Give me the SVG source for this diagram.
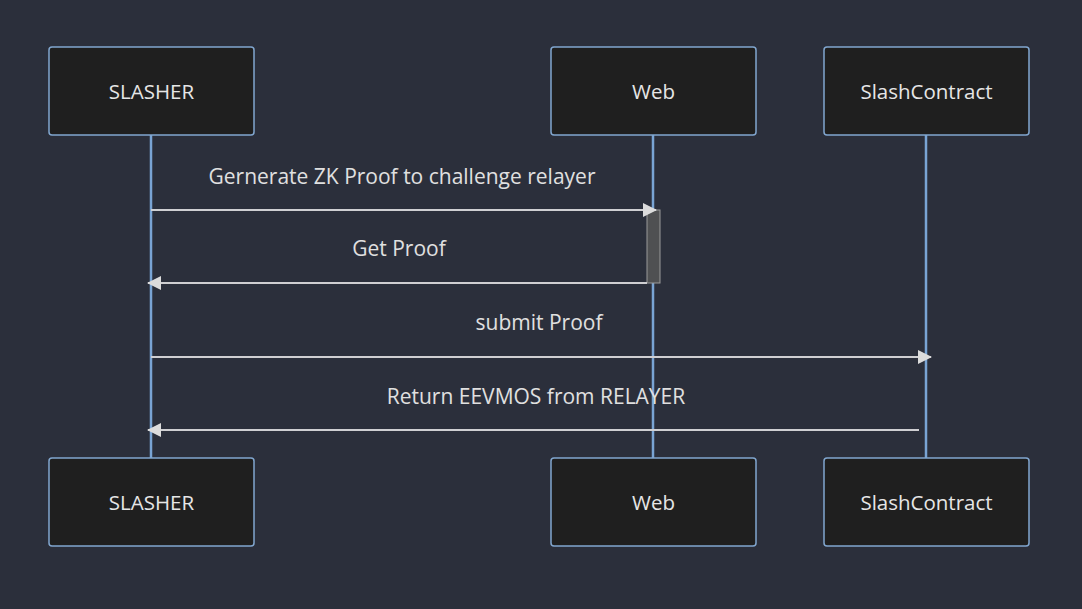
<svg xmlns="http://www.w3.org/2000/svg" width="1082" height="609" viewBox="0 0 1082 609">
<defs>
<style>
.actor{fill:#1f1f1f;stroke:#81a6cf;stroke-width:1.5}
.atext{fill:#e6e6e6;font-family:"Open Sans","DejaVu Sans",sans-serif;font-size:20.5px;text-anchor:middle;dominant-baseline:central}
.life{stroke:#79a4d4;stroke-width:2.5}
.msg{stroke:#cfcfd2;stroke-width:2;fill:none}
.mtext{fill:#e0e0e0;font-family:"Open Sans","DejaVu Sans",sans-serif;font-size:21px;text-anchor:middle}
.act{fill:#4f5052;stroke:#9a9a9a;stroke-width:1}
</style>
<marker id="arrow" viewBox="0 0 14 14" refX="13" refY="7" markerWidth="14" markerHeight="14" markerUnits="userSpaceOnUse" orient="auto">
<path d="M0,0 L14,7 L0,14 Z" fill="#dcdcdc"/>
</marker>
</defs>
<rect width="1082" height="609" fill="#2b2f3b"/>
<g id="lifelines">
<line class="life" x1="151" y1="135" x2="151" y2="458"/>
<line class="life" x1="653" y1="135" x2="653" y2="458"/>
<line class="life" x1="926" y1="135" x2="926" y2="458"/>
</g>
<g id="activation">
<rect class="act" x="647" y="210" width="13" height="73"/>
</g>
<g id="node-slasher-top"><rect class="actor" x="49" y="47" width="205" height="88" rx="3"/><text class="atext" x="151.5" y="91">SLASHER</text></g>
<g id="node-web-top"><rect class="actor" x="551" y="47" width="205" height="88" rx="3"/><text class="atext" x="653.5" y="91">Web</text></g>
<g id="node-slash-top"><rect class="actor" x="824" y="47" width="205" height="88" rx="3"/><text class="atext" x="926.5" y="91">SlashContract</text></g>
<g id="node-slasher-bottom"><rect class="actor" x="49" y="458" width="205" height="88" rx="3"/><text class="atext" x="151.5" y="502">SLASHER</text></g>
<g id="node-web-bottom"><rect class="actor" x="551" y="458" width="205" height="88" rx="3"/><text class="atext" x="653.5" y="502">Web</text></g>
<g id="node-slash-bottom"><rect class="actor" x="824" y="458" width="205" height="88" rx="3"/><text class="atext" x="926.5" y="502">SlashContract</text></g>
<g id="connectors">
<line class="msg" x1="151" y1="210" x2="656" y2="210" marker-end="url(#arrow)"/>
<text class="mtext" x="402" y="184">Gernerate ZK Proof to challenge relayer</text>
<line class="msg" x1="647" y1="283" x2="148" y2="283" marker-end="url(#arrow)"/>
<text class="mtext" x="399" y="256">Get Proof</text>
<line class="msg" x1="151" y1="357" x2="931" y2="357" marker-end="url(#arrow)"/>
<text class="mtext" x="539" y="330">submit Proof</text>
<line class="msg" x1="919" y1="430" x2="148" y2="430" marker-end="url(#arrow)"/>
<text class="mtext" x="536" y="404">Return EEVMOS from RELAYER</text>
</g>
</svg>
